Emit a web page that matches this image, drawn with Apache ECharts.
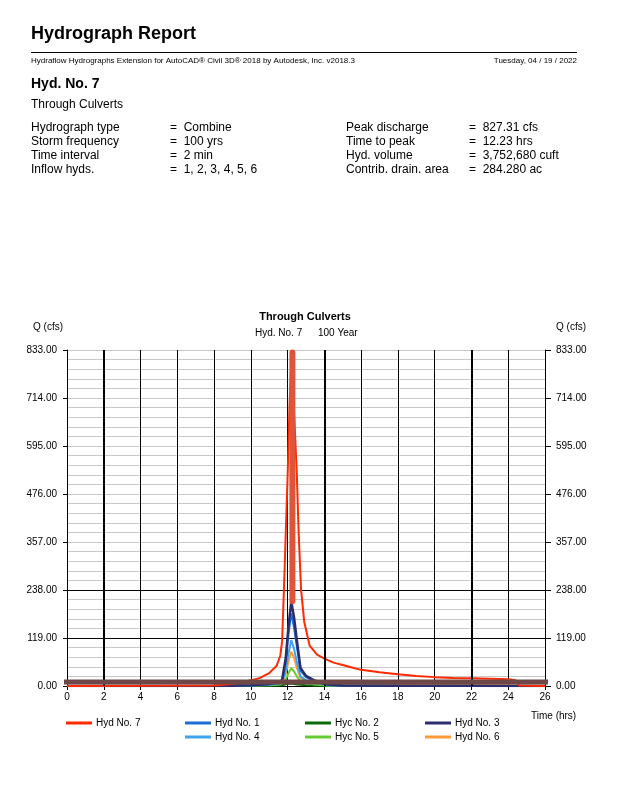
<!DOCTYPE html>
<html>
<head>
<meta charset="utf-8">
<script src="https://cdn.jsdelivr.net/npm/echarts@6/dist/echarts.min.js"></script>
<style>
html,body{margin:0;padding:0;background:#fff;}
#chart{width:618px;height:800px;}
</style>
</head>
<body>
<div id="chart"></div>
<script>
// ---- data ----
var yTicks = [0, 119, 238, 357, 476, 595, 714, 833];
var xTicks = [0, 2, 4, 6, 8, 10, 12, 14, 16, 18, 20, 22, 24, 26];

var hyd7Time = [0, 8, 9, 10, 10.5, 11, 11.4, 11.6, 11.7, 11.8, 12.0, 12.1, 12.22, 12.35, 12.5, 12.6, 12.73, 12.9, 13.2, 13.6, 14, 14.5, 15, 15.5, 16, 17, 18, 19, 20, 21, 22, 23, 24, 24.4, 24.6, 26];
var hyd7Q    = [0, 1, 5, 14, 20, 32, 50, 75, 110, 240, 520, 690, 827, 680, 527, 380, 240, 160, 100, 78, 68, 58, 52, 46, 40, 34, 29, 25, 22, 20, 19, 18, 16.5, 14, 1, 0];

var inflowTime = [0, 8, 9, 10, 11, 11.5, 11.7, 11.9, 12.05, 12.2, 12.35, 12.5, 12.7, 13, 13.4, 13.8, 14.2, 15, 18, 22, 24, 25, 26];
var hyd1Q = [0, 0, 0.5, 1.5, 4, 8, 13, 60, 130, 180, 145, 98, 38, 22, 13, 7, 3, 1, 0.5, 0.3, 0.2, 0, 0];
var hyd2Q = [0, 0, 0, 0.2, 0.5, 1, 2, 4, 5.5, 6, 5, 4, 3, 2, 1, 0.5, 0.3, 0.1, 0, 0, 0, 0, 0];
var hyd3Q = [0, 0, 0.5, 2, 5, 9, 15, 70, 150, 209, 170, 114, 45, 25, 15, 8, 4, 1.5, 0.8, 0.5, 0.3, 0, 0];
var hyd4Q = [0, 0, 0.5, 1.5, 3, 5, 9, 38, 82, 114, 92, 60, 24, 14, 9, 5, 2, 1, 0.5, 0.3, 0.2, 0, 0];
var hyd5Q = [0, 0, 0.3, 1, 2, 3, 5, 16, 32, 44, 36, 24, 11, 7, 4, 2.5, 1.5, 1, 0.5, 0.3, 0.2, 0, 0];
var hyd6Q = [0, 0.5, 1.5, 3, 5, 7, 10, 30, 62, 85, 70, 45, 20, 12, 8, 5, 4, 3, 2.5, 2, 2, 0, 0];

var peakBarTime = [12.26, 12.26];
var peakBarQ    = [210, 827];
var baseBandTime = [-0.27, 26.45];
var baseBandQ    = [10, 10];
var heavyGridHours = [2, 14, 22];

var seriesNames = ['Hyd No. 7', 'Hyd No. 1', 'Hyc No. 2', 'Hyd No. 3', 'Hyd No. 4', 'Hyc No. 5', 'Hyd No. 6'];

function pairs(t, q) { return t.map(function (x, i) { return [x, q[i]]; }); }

var FONT = '"Liberation Sans", Arial, sans-serif';
var chart = echarts.init(document.getElementById('chart'), null, {renderer: 'canvas'});

function txt(x, y, s, size, opts) {
  opts = opts || {};
  return {
    type: 'text', x: x, y: y, silent: true,
    style: {
      text: s, fill: '#000',
      font: (opts.bold ? 'bold ' : '') + size + 'px ' + FONT,
      textAlign: opts.align || 'left', textVerticalAlign: 'middle'
    }
  };
}

var graphics = [
  txt(31, 34, 'Hydrograph Report', 18, {bold: true}),
  {type: 'line', silent: true, shape: {x1: 31, y1: 52.5, x2: 577, y2: 52.5}, style: {stroke: '#000', lineWidth: 1}},
  txt(31, 61, 'Hydraflow Hydrographs Extension for AutoCAD® Civil 3D® 2018 by Autodesk, Inc. v2018.3', 8),
  txt(577, 61, 'Tuesday, 04 / 19 / 2022', 8, {align: 'right'}),
  txt(31, 84, 'Hyd. No. 7', 14, {bold: true}),
  txt(31, 105, 'Through Culverts', 12),
  txt(31, 128, 'Hydrograph type', 12), txt(170, 128, '=  Combine', 12),
  txt(31, 142, 'Storm frequency', 12), txt(170, 142, '=  100 yrs', 12),
  txt(31, 156, 'Time interval', 12), txt(170, 156, '=  2 min', 12),
  txt(31, 170, 'Inflow hyds.', 12), txt(170, 170, '=  1, 2, 3, 4, 5, 6', 12),
  txt(346, 128, 'Peak discharge', 12), txt(469, 128, '=  827.31 cfs', 12),
  txt(346, 142, 'Time to peak', 12), txt(469, 142, '=  12.23 hrs', 12),
  txt(346, 156, 'Hyd. volume', 12), txt(469, 156, '=  3,752,680 cuft', 12),
  txt(346, 170, 'Contrib. drain. area', 12), txt(469, 170, '=  284.280 ac', 12),
  txt(305, 317, 'Through Culverts', 11, {bold: true, align: 'center'}),
  txt(255, 333, 'Hyd. No. 7', 10),
  txt(318, 333, '100 Year', 10),
  txt(33, 327, 'Q (cfs)', 10),
  txt(556, 327, 'Q (cfs)', 10),
  txt(531, 716, 'Time (hrs)', 10)
];

var colors = {
  'Hyd No. 7': '#ff2a00',
  'Hyd No. 1': '#1a6fd6',
  'Hyc No. 2': '#0a6a0a',
  'Hyd No. 3': '#2b2d6e',
  'Hyd No. 4': '#3fa3ee',
  'Hyc No. 5': '#66cc33',
  'Hyd No. 6': '#ff9b38'
};

var legendPos = [
  ['Hyd No. 7', 66, 724], ['Hyd No. 1', 185, 724], ['Hyc No. 2', 305, 724], ['Hyd No. 3', 425, 724],
  ['Hyd No. 4', 185, 738], ['Hyc No. 5', 305, 738], ['Hyd No. 6', 425, 738]
];
var legends = legendPos.map(function (p) {
  return {
    data: [p[0]], left: p[1], top: p[2] - 6, padding: 0, itemGap: 0,
    itemWidth: 26, itemHeight: 3, icon: 'rect', selectedMode: false,
    textStyle: {fontFamily: FONT, fontSize: 10, color: '#000', padding: [0, 0, 0, -1]}
  };
});

function lineSeries(name, data, width, z) {
  return {
    name: name, type: 'line', data: data, showSymbol: false, symbol: 'none',
    lineStyle: {color: colors[name], width: width}, itemStyle: {color: colors[name]},
    z: z, animation: false
  };
}

var option = {
  animation: false,
  backgroundColor: '#fff',
  grid: {left: 67, right: 73, top: 350, bottom: 114, containLabel: false},
  legend: legends,
  graphic: graphics,
  xAxis: {
    type: 'value', min: 0, max: 26, interval: 2,
    axisLine: {show: true, lineStyle: {color: '#000', width: 1}},
    axisTick: {show: true, length: 4, lineStyle: {color: '#000'}},
    axisLabel: {color: '#000', fontFamily: FONT, fontSize: 10, margin: 6},
    splitLine: {show: true, lineStyle: {color: '#000', width: 1}}
  },
  yAxis: [{
    type: 'value', min: 0, max: 833, interval: 119, position: 'left',
    axisLine: {show: true, lineStyle: {color: '#000', width: 1}},
    axisTick: {show: true, length: 4, lineStyle: {color: '#000'}},
    axisLabel: {color: '#000', fontFamily: FONT, fontSize: 10, margin: 10,
      formatter: function (v) { return v.toFixed(2); }},
    minorTick: {show: false, splitNumber: 5},
    minorSplitLine: {show: true, lineStyle: {color: '#c8c8c8', width: 1}},
    splitLine: {show: true, lineStyle: {color: ['#000', '#000', '#000', '#c8c8c8', '#c8c8c8', '#c8c8c8', '#c8c8c8', '#c8c8c8'], width: 1}}
  }, {
    type: 'value', min: 0, max: 833, interval: 119, position: 'right',
    axisLine: {show: true, lineStyle: {color: '#000', width: 1}},
    axisTick: {show: true, length: 6, lineStyle: {color: '#000'}},
    axisLabel: {color: '#000', fontFamily: FONT, fontSize: 10, margin: 11,
      formatter: function (v) { return v.toFixed(2); }},
    splitLine: {show: false}
  }],
  series: [
    {
      name: 'gridHeavy', type: 'line', data: [], z: 1, silent: true,
      markLine: {
        silent: true, symbol: 'none', label: {show: false}, animation: false,
        lineStyle: {color: '#000', width: 2, type: 'solid'},
        data: heavyGridHours.map(function (h) { return {xAxis: h}; })
      }
    },
    lineSeries('Hyc No. 2', pairs(inflowTime, hyd2Q), 2, 2),
    lineSeries('Hyd No. 6', pairs(inflowTime, hyd6Q), 2, 2),
    lineSeries('Hyc No. 5', pairs(inflowTime, hyd5Q), 2, 2),
    lineSeries('Hyd No. 4', pairs(inflowTime, hyd4Q), 2, 2),
    lineSeries('Hyd No. 1', pairs(inflowTime, hyd1Q), 2, 2),
    lineSeries('Hyd No. 3', pairs(inflowTime, hyd3Q), 2.5, 2),
    lineSeries('Hyd No. 7', pairs(hyd7Time, hyd7Q), 2, 3),
    {
      name: 'peakBar', type: 'line', data: pairs(peakBarTime, peakBarQ), showSymbol: false, symbol: 'none',
      lineStyle: {color: '#e0553a', width: 6, cap: 'round'}, z: 4, silent: true
    },
    {
      name: 'baseBand', type: 'line', data: pairs(baseBandTime, baseBandQ), showSymbol: false, symbol: 'none',
      clip: false, lineStyle: {color: '#6e4848', width: 5}, z: 5, silent: true
    }
  ]
};
chart.setOption(option);
</script>
</body>
</html>
